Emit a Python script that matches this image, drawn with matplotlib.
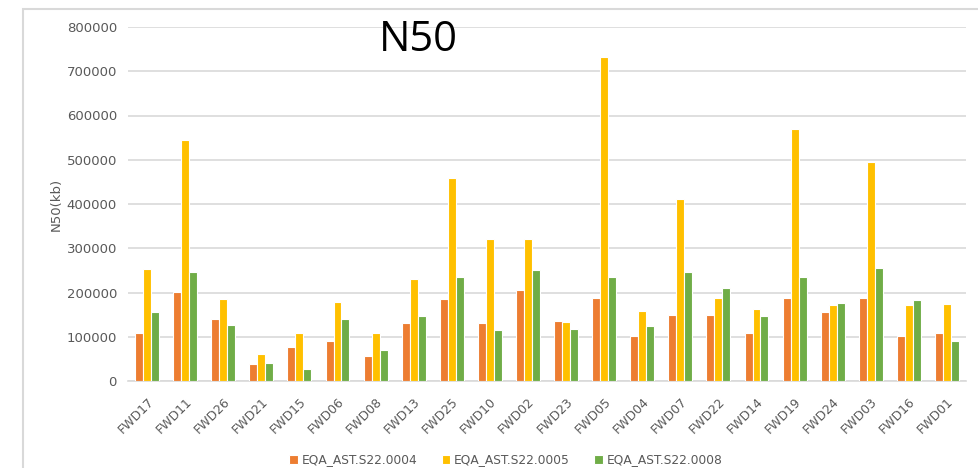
import numpy as np
import matplotlib
matplotlib.use("Agg")
import matplotlib.pyplot as plt
from matplotlib.patches import Rectangle

# -----------------------------
# Data
# -----------------------------
samples = ["FWD17", "FWD11", "FWD26", "FWD21", "FWD15", "FWD06", "FWD08", "FWD13",
           "FWD25", "FWD10", "FWD02", "FWD23", "FWD05", "FWD04", "FWD07", "FWD22",
           "FWD14", "FWD19", "FWD24", "FWD03", "FWD16", "FWD01"]
series_names = ["EQA_AST.S22.0004", "EQA_AST.S22.0005", "EQA_AST.S22.0008"]
n50_0004 = [108000, 202000, 140000, 38000, 77000, 91000, 56000, 130000,
            186000, 130000, 205000, 135000, 187000, 102000, 149000, 149000,
            108000, 187000, 156000, 187000, 101000, 108000]
n50_0005 = [254000, 544000, 185000, 61000, 108000, 178000, 109000, 231000,
            458000, 321000, 321000, 133000, 732000, 158000, 411000, 187000,
            162000, 569000, 171000, 496000, 171000, 173000]
n50_0008 = [157000, 246000, 126000, 40000, 27000, 139000, 70000, 148000,
            236000, 115000, 251000, 117000, 235000, 124000, 246000, 210000,
            148000, 235000, 176000, 256000, 184000, 91000]
yticks = [0, 100000, 200000, 300000, 400000, 500000, 600000, 700000, 800000]

colors = ["#ED7D31", "#FFC000", "#70AD47"]
grey = "#595959"

fig = plt.figure(figsize=(9.79, 4.68), dpi=100)
ax = fig.add_axes([128/979, 1-381/468, (966-128)/979, (381-27)/468])

x = np.arange(len(samples))
w = 0.21
for k, (vals, name) in enumerate(zip([n50_0004, n50_0005, n50_0008], series_names)):
    ax.bar(x + (k-1)*w, vals, width=w, color=colors[k], edgecolor="white",
           linewidth=0.8, label=name, zorder=3)

ax.set_xlim(-0.5, len(samples)-0.5)
ax.set_ylim(0, 800000)
ax.set_yticks(yticks)
ax.set_yticklabels([str(v) for v in yticks], fontsize=9.5, color=grey)
ax.set_xticks(x)
ax.set_xticklabels(samples, rotation=45, ha="right", rotation_mode="anchor",
                   fontsize=9, color=grey)
ax.tick_params(axis="y", length=0, pad=8)
ax.tick_params(axis="x", length=0, pad=10)
ax.grid(axis="y", color="#D9D9D9", linewidth=1.2, zorder=0)
for s in ["top", "right", "left"]:
    ax.spines[s].set_visible(False)
ax.spines["bottom"].set_color("#D9D9D9")
ax.spines["bottom"].set_linewidth(1.2)
ax.set_ylabel("N50(kb)", fontsize=9.5, color=grey, labelpad=3)

# title placed like the original, off-centre
fig.text(418/979, 1-40/468, "N50", fontsize=30, color="black",
         ha="center", va="center", family="Open Sans")

# chart area border (left and top edges visible)
fig.patches.append(Rectangle((23/979, -0.1), 1.2, 1-9/468+0.1, transform=fig.transFigure,
                             fill=False, edgecolor="#D9D9D9", linewidth=1.5))

fig.legend(loc="center", bbox_to_anchor=(506/979, 1-460/468), ncol=3, frameon=False,
           fontsize=8.8, handlelength=0.7, handleheight=0.7, handletextpad=0.3,
           columnspacing=2.0, labelcolor=grey)

fig.savefig("out.png", dpi=100)
